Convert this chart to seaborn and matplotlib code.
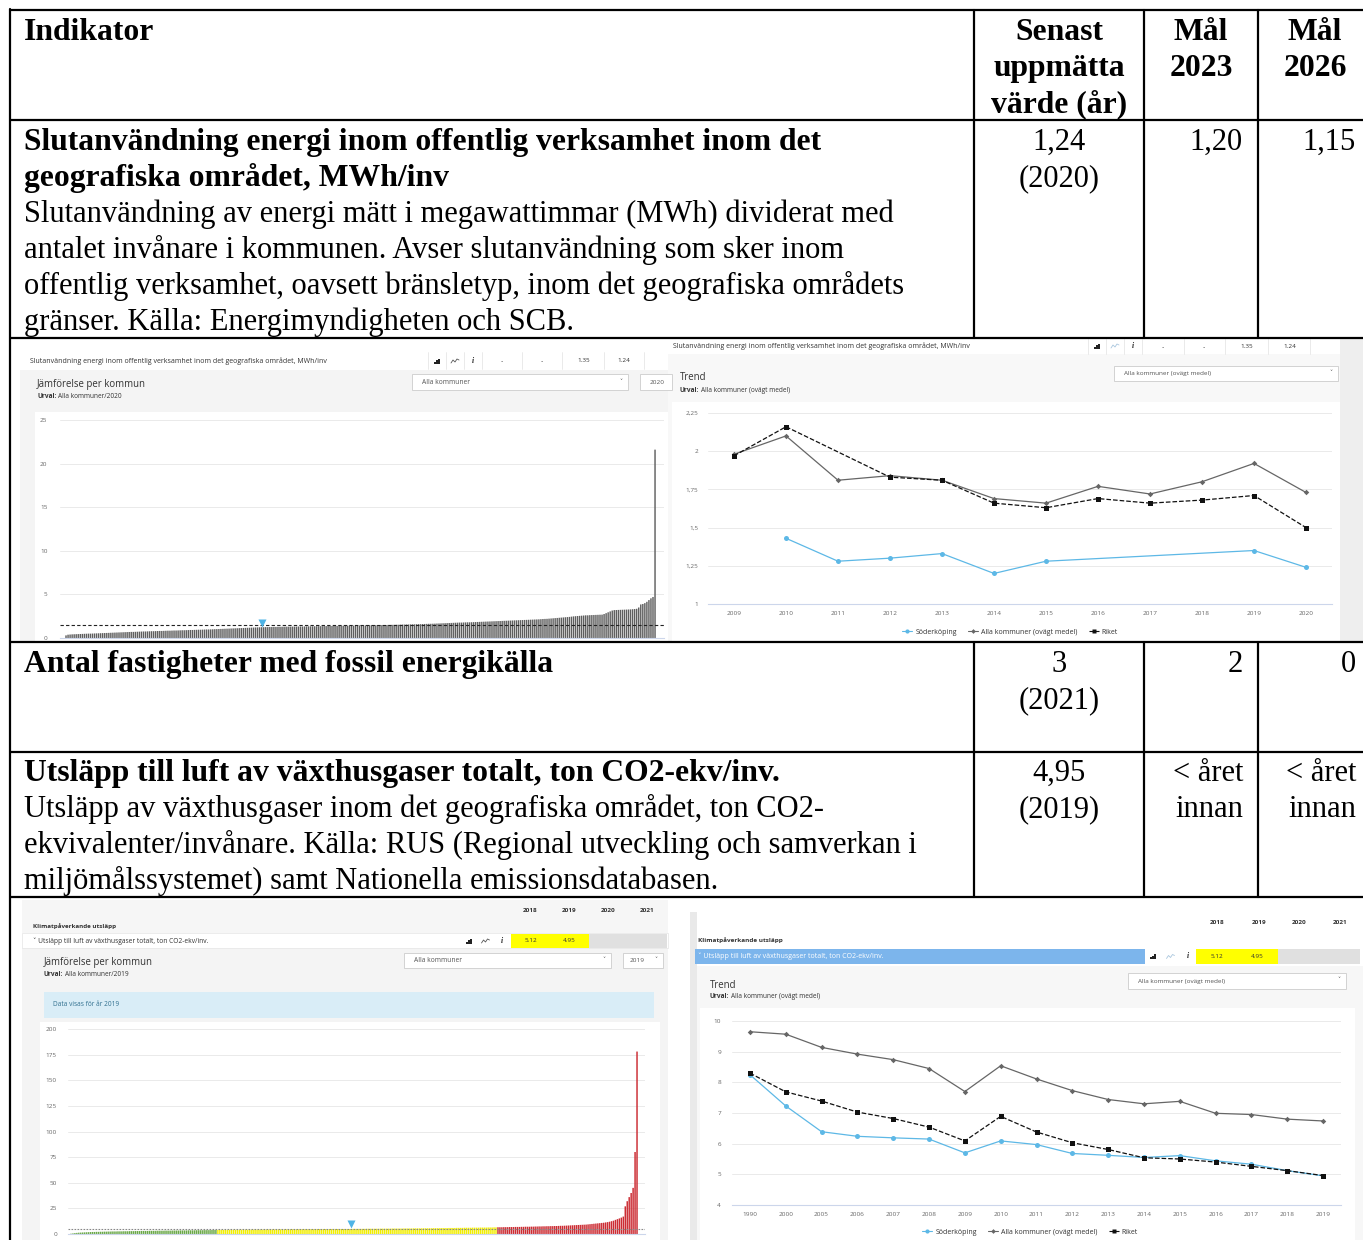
import numpy as np
import pandas as pd
import matplotlib
matplotlib.use("Agg")
import matplotlib.pyplot as plt
import matplotlib.transforms as mtransforms
from matplotlib.patches import Rectangle
from matplotlib.lines import Line2D
import seaborn as sns

# ---------------- data ----------------
series_names = ["Söderköping", "Alla kommuner (ovägt medel)", "Riket"]

mwh_years = [2009, 2010, 2011, 2012, 2013, 2014, 2015, 2016, 2017, 2018, 2019, 2020]
mwh_soderkoping = [np.nan, 1.43, 1.28, 1.30, 1.33, 1.20, 1.28, np.nan, np.nan, np.nan, 1.35, 1.24]
mwh_alla = [1.98, 2.10, 1.81, 1.84, 1.81, 1.69, 1.66, 1.77, 1.72, 1.80, 1.92, 1.73]
mwh_riket = [1.97, 2.16, np.nan, 1.83, 1.81, 1.66, 1.63, 1.69, 1.66, 1.68, 1.71, 1.50]

co2_years = [1990, 2000, 2005, 2006, 2007, 2008, 2009, 2010, 2011, 2012, 2013,
             2014, 2015, 2016, 2017, 2018, 2019]
co2_soderkoping = [8.25, 7.23, 6.39, 6.24, 6.19, 6.15, 5.70, 6.09, 5.97, 5.68, 5.62,
                   5.55, 5.61, 5.44, 5.33, 5.12, 4.95]
co2_alla = [9.65, 9.57, 9.14, 8.92, 8.74, 8.45, 7.70, 8.54, 8.11, 7.73, 7.44,
            7.30, 7.38, 6.99, 6.95, 6.80, 6.74]
co2_riket = [8.30, 7.69, 7.39, 7.03, 6.82, 6.54, 6.09, 6.89, 6.38, 6.03, 5.81,
             5.54, 5.50, 5.40, 5.26, 5.12, 4.96]

# MWh/inv per kommun 2020, sorted (290 kommuner)
mwh_kommuner = [
    0.30, 0.38, 0.40, 0.42, 0.43, 0.44, 0.45, 0.46, 0.47, 0.48,
    0.49, 0.50, 0.50, 0.51, 0.52, 0.53, 0.54, 0.55, 0.56, 0.57,
    0.58, 0.59, 0.60, 0.61, 0.62, 0.63, 0.64, 0.65, 0.66, 0.67,
    0.68, 0.69, 0.70, 0.70, 0.71, 0.72, 0.73, 0.74, 0.75, 0.75,
    0.76, 0.77, 0.78, 0.78, 0.79, 0.80, 0.81, 0.81, 0.82, 0.83,
    0.84, 0.84, 0.85, 0.86, 0.86, 0.87, 0.88, 0.89, 0.89, 0.90,
    0.91, 0.92, 0.92, 0.93, 0.94, 0.95, 0.95, 0.96, 0.97, 0.98,
    0.98, 0.99, 1.00, 1.01, 1.02, 1.03, 1.04, 1.05, 1.06, 1.07,
    1.08, 1.09, 1.10, 1.11, 1.12, 1.13, 1.14, 1.15, 1.16, 1.17,
    1.18, 1.19, 1.20, 1.21, 1.22, 1.23, 1.24, 1.24, 1.25, 1.25,
    1.26, 1.26, 1.27, 1.27, 1.28, 1.28, 1.29, 1.29, 1.30, 1.30,
    1.30, 1.31, 1.31, 1.31, 1.32, 1.32, 1.32, 1.33, 1.33, 1.34,
    1.34, 1.34, 1.35, 1.35, 1.36, 1.36, 1.36, 1.37, 1.37, 1.38,
    1.38, 1.38, 1.39, 1.39, 1.40, 1.40, 1.40, 1.41, 1.41, 1.42,
    1.42, 1.42, 1.43, 1.43, 1.44, 1.44, 1.44, 1.45, 1.45, 1.46,
    1.46, 1.46, 1.47, 1.47, 1.48, 1.48, 1.49, 1.49, 1.50, 1.50,
    1.51, 1.51, 1.52, 1.52, 1.53, 1.54, 1.54, 1.55, 1.55, 1.56,
    1.57, 1.57, 1.58, 1.59, 1.59, 1.60, 1.61, 1.62, 1.63, 1.63,
    1.64, 1.65, 1.66, 1.67, 1.68, 1.69, 1.70, 1.71, 1.72, 1.73,
    1.74, 1.75, 1.76, 1.77, 1.77, 1.78, 1.79, 1.80, 1.80, 1.81,
    1.82, 1.83, 1.84, 1.85, 1.86, 1.87, 1.88, 1.89, 1.90, 1.91,
    1.92, 1.93, 1.94, 1.95, 1.96, 1.97, 1.98, 1.99, 2.00, 2.01,
    2.02, 2.03, 2.04, 2.05, 2.06, 2.07, 2.08, 2.09, 2.10, 2.11,
    2.12, 2.13, 2.14, 2.16, 2.18, 2.19, 2.20, 2.22, 2.24, 2.26,
    2.28, 2.30, 2.32, 2.34, 2.36, 2.38, 2.40, 2.42, 2.45, 2.48,
    2.50, 2.52, 2.54, 2.56, 2.58, 2.60, 2.60, 2.62, 2.63, 2.64,
    2.65, 2.66, 2.67, 2.68, 2.75, 2.85, 2.95, 3.05, 3.15, 3.20,
    3.21, 3.22, 3.23, 3.24, 3.25, 3.26, 3.27, 3.28, 3.30, 3.32,
    3.35, 3.50, 3.85, 3.90, 4.00, 4.15, 4.35, 4.55, 4.70, 21.6,
]

# ton CO2-ekv/inv per kommun 2019, sorted (290 kommuner)
co2_kommuner = [
    0.3, 0.6, 0.9, 1.1, 1.3, 1.4, 1.5, 1.6, 1.7, 1.8,
    1.9, 2.0, 2.0, 2.1, 2.1, 2.2, 2.2, 2.3, 2.3, 2.4,
    2.4, 2.5, 2.5, 2.5, 2.6, 2.6, 2.6, 2.7, 2.7, 2.7,
    2.8, 2.8, 2.8, 2.9, 2.9, 2.9, 3.0, 3.0, 3.0, 3.0,
    3.1, 3.1, 3.1, 3.1, 3.2, 3.2, 3.2, 3.2, 3.3, 3.3,
    3.3, 3.3, 3.4, 3.4, 3.4, 3.4, 3.5, 3.5, 3.5, 3.5,
    3.6, 3.6, 3.6, 3.6, 3.7, 3.7, 3.7, 3.7, 3.8, 3.8,
    3.8, 3.8, 3.9, 3.9, 3.9,
    4.0, 4.0, 4.0, 4.0, 4.0, 4.0, 4.1, 4.1, 4.1, 4.1,
    4.1, 4.1, 4.2, 4.2, 4.2, 4.2, 4.2, 4.2, 4.3, 4.3,
    4.3, 4.3, 4.3, 4.3, 4.4, 4.4, 4.4, 4.4, 4.4, 4.4,
    4.5, 4.5, 4.5, 4.5, 4.5, 4.5, 4.6, 4.6, 4.6, 4.6,
    4.6, 4.6, 4.6, 4.7, 4.7, 4.7, 4.7, 4.7, 4.7, 4.7,
    4.8, 4.8, 4.8, 4.8, 4.8, 4.8, 4.8, 4.8, 4.9, 4.9,
    4.9, 4.9, 4.9, 4.9, 4.9, 4.9, 4.9, 4.9, 4.95, 5.0,
    5.0, 5.0, 5.0, 5.0, 5.0, 5.0, 5.1, 5.1, 5.1, 5.1,
    5.1, 5.1, 5.1, 5.2, 5.2, 5.2, 5.2, 5.2, 5.2, 5.3,
    5.3, 5.3, 5.3, 5.3, 5.3, 5.4, 5.4, 5.4, 5.4, 5.4,
    5.5, 5.5, 5.5, 5.5, 5.5, 5.6, 5.6, 5.6, 5.6, 5.6,
    5.7, 5.7, 5.7, 5.7, 5.8, 5.8, 5.8, 5.8, 5.9, 5.9,
    5.9, 5.9, 6.0, 6.0, 6.0, 6.0, 6.1, 6.1, 6.1, 6.1,
    6.2, 6.2, 6.2, 6.2, 6.3, 6.3, 6.3, 6.3, 6.4, 6.4,
    6.4, 6.5, 6.5,
    6.6, 6.6, 6.6, 6.7, 6.7, 6.7, 6.8, 6.8, 6.8, 6.9,
    6.9, 6.9, 7.0, 7.0, 7.1, 7.1, 7.1, 7.2, 7.2, 7.3,
    7.3, 7.4, 7.4, 7.5, 7.5, 7.6, 7.6, 7.7, 7.7, 7.8,
    7.8, 7.9, 8.0, 8.0, 8.1, 8.2, 8.3, 8.4, 8.5, 8.6,
    8.7, 8.8, 8.9, 9.0, 9.1, 9.2, 9.4, 9.6, 9.8, 10.0,
    10.2, 10.4, 10.6, 10.8, 11.0, 11.3, 11.6, 12.0, 12.5, 13.0,
    13.8, 14.5, 15.2, 16.0, 17.0, 27.0, 32.0, 36.0, 40.0, 45.0, 80.0, 178.0,
]
co2_green_max = 3.95
co2_yellow_max = 6.55

# table texts
ind_header = "Indikator"
col_headers = [["Senast", "uppmätta", "värde (år)"], ["Mål", "2023"], ["Mål", "2026"]]
row1_title = ["Slutanvändning energi inom offentlig verksamhet inom det",
              "geografiska området, MWh/inv"]
row1_desc = ["Slutanvändning av energi mätt i megawattimmar (MWh) dividerat med",
             "antalet invånare i kommunen. Avser slutanvändning som sker inom",
             "offentlig verksamhet, oavsett bränsletyp, inom det geografiska områdets",
             "gränser. Källa: Energimyndigheten och SCB."]
row1_values = [["1,24", "(2020)"], ["1,20"], ["1,15"]]
row2_title = ["Antal fastigheter med fossil energikälla"]
row2_values = [["3", "(2021)"], ["2"], ["0"]]
row3_title = ["Utsläpp till luft av växthusgaser totalt, ton CO2-ekv/inv."]
row3_desc = ["Utsläpp av växthusgaser inom det geografiska området, ton CO2-",
             "ekvivalenter/invånare. Källa: RUS (Regional utveckling och samverkan i",
             "miljömålssystemet) samt Nationella emissionsdatabasen."]
row3_values = [["4,95", "(2019)"], ["< året", "innan"], ["< året", "innan"]]

mwh_indicator = "Slutanvändning energi inom offentlig verksamhet inom det geografiska området, MWh/inv"
mwh_cells = ["..", "..", "1.35", "1.24"]
co2_group = "Klimatpåverkande utsläpp"
co2_indicator = "˅ Utsläpp till luft av växthusgaser totalt, ton CO2-ekv/inv."
co2_head_years = ["2018", "2019", "2020", "2021"]
co2_cells = ["5.12", "4.95", "", ""]

# ---------------- style ----------------
sns.set_style("white")
UI = ["Open Sans", "DejaVu Sans"]
SERIF = ["Liberation Serif", "DejaVu Serif"]
plt.rcParams["font.family"] = UI

W, H = 1363, 1240
TS_BOLD, TS_REG = 22.8, 22.0
C_SOD, C_ALL, C_RIK = "#5db8e6", "#666666", "#111111"

fig = plt.figure(figsize=(W / 100, H / 100), dpi=100)
bg = fig.add_axes([0, 0, 1, 1])
bg.set_xlim(0, W)
bg.set_ylim(H, 0)
bg.axis("off")


def px_axes(x0, y0, x1, y1):
    return fig.add_axes([x0 / W, 1 - y1 / H, (x1 - x0) / W, (y1 - y0) / H])


def rect(x0, y0, x1, y1, fc, ec="none", lw=0.6, z=1):
    bg.add_patch(Rectangle((x0, y0), x1 - x0, y1 - y0, facecolor=fc,
                           edgecolor=ec, linewidth=lw, zorder=z))


def small(x, y, s, size=4.8, color="#333333", weight="normal", ha="left"):
    bg.text(x, y, s, fontsize=size, color=color, fontweight=weight, ha=ha,
            va="center", family=UI, zorder=6)


def serif(x, y, s, bold=False, ha="left"):
    bg.text(x, y, s, family=SERIF, fontsize=TS_BOLD if bold else TS_REG, ha=ha,
            va="baseline", fontweight="bold" if bold else "normal", color="black", zorder=7)


def icons(x, y, step=18, light=False):
    for dx, h in [(-2, 2.0), (0, 3.5), (2, 5.0)]:
        rect(x + dx - 0.6, y + 2.5 - h, x + dx + 0.6, y + 2.5, "#222222", z=6)
    lx = x + step
    bg.plot([lx - 4, lx - 2, lx, lx + 2, lx + 4], [y + 2, y - 1, y + 1, y - 2, y - 1],
            color="#a9c6de" if light else "#555555", lw=0.6, zorder=6)
    bg.text(x + 2 * step, y, "i", fontsize=5.5, fontweight="bold", style="italic",
            family=SERIF, ha="center", va="center", zorder=6)


def dropdown(x0, y0, x1, y1, label, size=4.8):
    rect(x0, y0, x1, y1, "white", ec="#cccccc", lw=0.6, z=3)
    small(x0 + 10, (y0 + y1) / 2, label, size=size, color="#555555")
    small(x1 - 7, (y0 + y1) / 2 - 1, "˅", size=4.4, color="#555555", ha="center")


def urval(x, y, rest):
    small(x, y, "Urval:", size=4.7, weight="bold")
    small(x + 21, y, rest, size=4.7)


def style_chart(ax, yticks, ylabels, ylim, ypad, xpad=4):
    ax.set_facecolor("none")
    ax.set_ylim(ylim)
    ax.set_yticks(yticks)
    ax.set_yticklabels(ylabels)
    ax.grid(axis="y", color="#e6e6e6", lw=0.6)
    ax.grid(axis="x", visible=False)
    ax.set_axisbelow(True)
    for s in ["top", "right", "left"]:
        ax.spines[s].set_visible(False)
    ax.spines["bottom"].set_color("#ccd6eb")
    ax.spines["bottom"].set_linewidth(0.8)
    ax.tick_params(axis="y", length=0, labelsize=4.6, labelcolor="#666666", pad=ypad)
    ax.tick_params(axis="x", length=0, labelsize=4.6, labelcolor="#666666", pad=xpad)
    ax.set_xlabel("")
    ax.set_ylabel("")


def comma(v):
    return f"{v:g}".replace(".", ",")


def bar_chart(ax, values, classes, palette, width, line_value, line_style, line_color,
              marker_value, marker_shift):
    df = pd.DataFrame({"rank": range(len(values)), "value": values, "klass": classes})
    sns.barplot(data=df, x="rank", y="value", hue="klass", palette=palette, dodge=False,
                width=width, saturation=1, linewidth=0, errorbar=None, legend=False, ax=ax)
    for p in ax.patches:
        p.set_snap(False)
    ax.set_xticks([])
    ax.axhline(line_value, color=line_color, ls=line_style, lw=0.8, zorder=4)
    rank = values.index(marker_value)
    shift = ax.transData + mtransforms.ScaledTranslation(0, marker_shift / 72, fig.dpi_scale_trans)
    ax.plot([rank], [marker_value], marker="v", ms=5.5, color="#4fb4e6", mec="none",
            transform=shift, clip_on=False, zorder=5)


def trend_chart(ax, years, series):
    pos = list(range(len(years)))
    for vals, color, marker, ms, ls in series:
        df = pd.DataFrame({"pos": pos, "value": vals}).dropna()
        sns.lineplot(data=df, x="pos", y="value", ax=ax, color=color, marker=marker,
                     markersize=ms, markeredgewidth=0, linewidth=0.9, linestyle=ls,
                     legend=False)
    ax.set_xticks(pos)
    ax.set_xticklabels([str(y) for y in years])
    ax.set_xlim(-0.5, len(years) - 0.5)


def trend_legend(cx, cy):
    handles = [Line2D([], [], color=C_SOD, marker="o", ms=3.0, mec="none", lw=0.8),
               Line2D([], [], color=C_ALL, marker="D", ms=2.4, mec="none", lw=0.8),
               Line2D([], [], color=C_RIK, marker="s", ms=3.0, mec="none", lw=0.8, ls="--")]
    fig.legend(handles, series_names, loc="center", bbox_to_anchor=(cx / W, 1 - cy / H),
               ncol=3, frameon=False, prop={"family": UI, "size": 5.0},
               handlelength=1.5, handletextpad=0.4, columnspacing=1.6, labelcolor="#333333")


# ---------------- screenshot A: bars MWh ----------------
rect(10, 338, 668, 642, "white", z=0)
rect(20, 370, 668, 642, "#f4f4f4", z=0.5)
rect(35, 412, 668, 642, "white", z=0.6)
small(30, 361, mwh_indicator, size=5.0)
for x in [428, 446, 464, 482, 522, 562, 604, 644]:
    bg.plot([x, x], [352, 369], color="#e2e2e2", lw=0.5, zorder=2)
icons(437, 361)
for x, s in zip([502, 542, 584, 624], mwh_cells):
    small(x, 361, s, size=4.6, ha="center")
small(37, 384, "Jämförelse per kommun", size=6.9)
urval(37, 397, "Alla kommuner/2020")
dropdown(412, 374, 628, 390, "Alla kommuner")
rect(640, 374, 672, 390, "white", ec="#cccccc", z=3)
small(657, 382, "2020", size=4.6, color="#555555", ha="center")

axA = px_axes(60, 420, 664, 638)
bar_chart(axA, mwh_kommuner, ["alla"] * len(mwh_kommuner), {"alla": "#5e5e5e"}, 0.7,
          mwh_riket[-1], (0, (3, 2)), "#222222", mwh_soderkoping[-1], 3.0)
style_chart(axA, [0, 5, 10, 15, 20, 25], ["0", "5", "10", "15", "20", "25"], (0, 25), 9)
axA.set_xlim(-2.95, 293.4)

# ---------------- screenshot B: trend MWh ----------------
rect(668, 338, 1340, 642, "#f8f8f8", z=0)
rect(668, 338, 1340, 354, "white", z=0.5)
rect(1340, 338, 1363, 642, "#eeeeee", z=0)
rect(672, 402, 1340, 642, "white", z=0.6)
small(673, 346, mwh_indicator, size=5.0)
for x in [1088, 1106, 1124, 1142, 1184, 1225, 1268, 1310]:
    bg.plot([x, x], [339, 354], color="#e2e2e2", lw=0.5, zorder=2)
icons(1097, 346, light=True)
for x, s in zip([1163, 1204, 1247, 1290], mwh_cells):
    small(x, 346, s, size=4.6, ha="center")
small(680, 377, "Trend", size=6.9)
urval(680, 390, "Alla kommuner (ovägt medel)")
dropdown(1114, 366, 1338, 381, "Alla kommuner (ovägt medel)", size=4.6)

axB = px_axes(708, 413, 1332, 604)
trend_chart(axB, mwh_years, [(mwh_soderkoping, C_SOD, "o", 3.6, "-"),
                             (mwh_alla, C_ALL, "D", 2.8, "-"),
                             (mwh_riket, C_RIK, "s", 3.6, "--")])
ticksB = [1, 1.25, 1.5, 1.75, 2, 2.25]
style_chart(axB, ticksB, [comma(v) for v in ticksB], (1, 2.25), 7, 5)
trend_legend(1010, 632)

# ---------------- screenshot C: bars CO2 ----------------
rect(10, 897, 680, 1240, "white", z=0)
rect(22, 900, 668, 933, "#f6f6f6", z=0.5)
rect(22, 933, 668, 948, "white", ec="#e4e4e4", lw=0.5, z=0.6)
rect(22, 948, 668, 1240, "#f4f4f4", z=0.5)
rect(40, 1022, 660, 1240, "white", z=0.6)
for x, s in zip([530, 569, 608, 647], co2_head_years):
    small(x, 910, s, size=4.6, weight="bold", ha="center")
small(33, 926, co2_group, size=4.5, weight="bold")
small(33, 941, co2_indicator, size=4.8)
icons(469, 941, step=16.5)
for i, s in enumerate(co2_cells):
    x0 = 511 + 39 * i
    rect(x0, 934, x0 + 39, 948, "#ffff00" if s else "#e0e0e0", z=2)
    small(x0 + 19.5, 941, s, size=4.6, ha="center")
small(44, 963, "Jämförelse per kommun", size=6.9)
urval(44, 975, "Alla kommuner/2019")
dropdown(404, 953, 611, 968, "Alla kommuner")
rect(623, 953, 663, 968, "white", ec="#cccccc", z=3)
small(637, 960.5, "2019", size=4.6, color="#555555", ha="center")
small(656, 959.5, "˅", size=4.4, color="#555555", ha="center")
rect(44, 992, 654, 1018, "#d9edf7", z=2)
small(53, 1005, "Data visas för år 2019", size=4.7, color="#31708f")

co2_classes = ["grön" if v < co2_green_max else ("gul" if v <= co2_yellow_max else "röd")
               for v in co2_kommuner]
axC = px_axes(68, 1029, 645, 1234)
bar_chart(axC, co2_kommuner, co2_classes,
          {"grön": "#6aa847", "gul": "#f2ee00", "röd": "#cc2c33"}, 0.75,
          co2_riket[-1], (0, (1.5, 1.2)), "#888888", co2_soderkoping[-1], 3.5)
ticksC = [0, 25, 50, 75, 100, 125, 150, 175, 200]
style_chart(axC, ticksC, [str(v) for v in ticksC], (0, 200), 8)
axC.set_xlim(-1.52, 293.07)

# ---------------- screenshot D: trend CO2 ----------------
rect(690, 912, 1363, 1240, "#f7f7f7", z=0)
rect(690, 912, 697, 1240, "#e9e9e9", z=0.5)
rect(697, 912, 1363, 966, "white", z=0.5)
rect(700, 1008, 1355, 1240, "white", z=0.6)
for x, s in zip([1217, 1259, 1299, 1340], co2_head_years):
    small(x, 923, s, size=4.6, weight="bold", ha="center")
small(698, 940, co2_group, size=4.6, weight="bold")
rect(695, 949, 1145, 964, "#7cb5ec", z=2)
small(698, 956.5, co2_indicator, size=5.0, color="white")
icons(1153, 956.5, step=17.5, light=True)
for i, s in enumerate(co2_cells):
    x0 = 1196 + 41 * i
    rect(x0, 949, x0 + 41, 964, "#ffff00" if s else "#e0e0e0", z=2)
    small(x0 + 20.5, 956.5, s, size=4.6, ha="center")
small(710, 985, "Trend", size=6.9)
urval(710, 997, "Alla kommuner (ovägt medel)")
dropdown(1128, 973, 1346, 989, "Alla kommuner (ovägt medel)", size=4.6)

axD = px_axes(732, 1021, 1341, 1205)
trend_chart(axD, co2_years, [(co2_soderkoping, C_SOD, "o", 3.6, "-"),
                             (co2_alla, C_ALL, "D", 2.8, "-"),
                             (co2_riket, C_RIK, "s", 3.6, "--")])
style_chart(axD, [4, 5, 6, 7, 8, 9, 10], ["4", "5", "6", "7", "8", "9", "10"], (4, 10), 8, 5)
trend_legend(1030, 1232)

# ---------------- table ----------------
LW = 1.6
for y in [10, 120, 338, 642, 752, 897]:
    bg.plot([10, W + 5], [y, y], color="black", lw=LW, zorder=8, solid_capstyle="butt")
bg.plot([10, 10], [9, H + 5], color="black", lw=LW, zorder=8)
for x in [974, 1144, 1258]:
    bg.plot([x, x], [10, 338], color="black", lw=LW, zorder=8)
    bg.plot([x, x], [642, 897], color="black", lw=LW, zorder=8)

COL_CENTER, COL_RIGHT = 1059, [1243, 1356]
col_head_x = [1059, 1201, 1315]


def values_cell(vals, base):
    for k, lines in enumerate(vals):
        for j, s in enumerate(lines):
            if k == 0:
                serif(COL_CENTER, base + 36 * j, s, ha="center")
            else:
                serif(COL_RIGHT[k - 1], base + 36 * j, s, ha="right")


serif(24, 40, ind_header, bold=True)
for x, lines in zip(col_head_x, col_headers):
    for j, s in enumerate(lines):
        serif(x, 40 + 36 * j, s, bold=True, ha="center")

for j, s in enumerate(row1_title):
    serif(24, 150 + 36 * j, s, bold=True)
for j, s in enumerate(row1_desc):
    serif(24, 150 + 36 * (j + len(row1_title)), s)
values_cell(row1_values, 150)

serif(24, 672, row2_title[0], bold=True)
values_cell(row2_values, 672)

serif(24, 781, row3_title[0], bold=True)
for j, s in enumerate(row3_desc):
    serif(24, 781 + 36 * (j + 1), s)
values_cell(row3_values, 781)

fig.savefig("out.png", dpi=100)
